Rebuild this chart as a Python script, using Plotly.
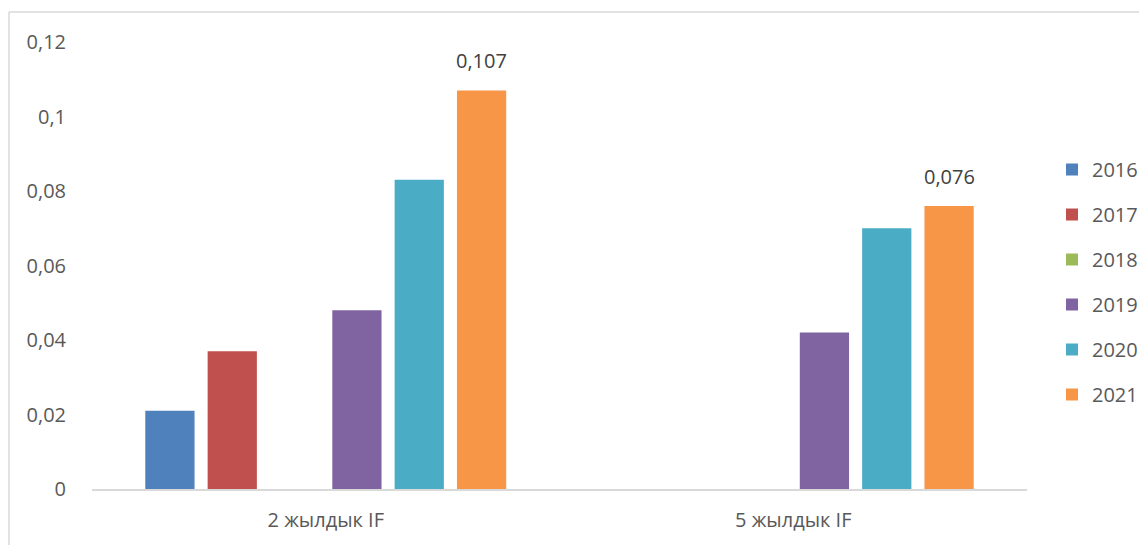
import plotly.graph_objects as go

categories = ["2 жылдык IF", "5 жылдык IF"]
years = ["2016", "2017", "2018", "2019", "2020", "2021"]
values = {
    "2016": [0.021, None],
    "2017": [0.037, None],
    "2018": [None, None],
    "2019": [0.048, 0.042],
    "2020": [0.083, 0.070],
    "2021": [0.107, 0.076],
}
colors = {
    "2016": "#4F81BD",
    "2017": "#C0504D",
    "2018": "#9BBB59",
    "2019": "#8064A2",
    "2020": "#4BACC6",
    "2021": "#F79646",
}
labelled_series = "2021"
tick_vals = [0, 0.02, 0.04, 0.06, 0.08, 0.1, 0.12]
tick_text = ["0", "0,02", "0,04", "0,06", "0,08", "0,1", "0,12"]

FONT = "Open Sans, Liberation Sans, sans-serif"
OFF = 8  # default page body margin
W, H = 1147 - OFF, 545 - OFF
L, R, T, B = 92 - OFF, 1027 - OFF, 42 - OFF, 489 - OFF
BARGAP = 0.2

fig = go.Figure()
for y in years:
    fig.add_trace(go.Bar(
        name=y, x=categories, y=values[y],
        marker=dict(color=colors[y], line=dict(width=0)),
        legendgroup=y,
    ))

# data labels for the labelled series, positioned via the axes
n = len(years)
k = years.index(labelled_series)
slot = (1 - BARGAP) / n
offset = (k - (n - 1) / 2) * slot
annotations = []
for i, v in enumerate(values[labelled_series]):
    if v is None:
        continue
    annotations.append(dict(
        x=i + offset, y=v, xref="x", yref="y",
        text=f"{v:.3f}".replace(".", ","),
        showarrow=False, yanchor="bottom", yshift=14,
        font=dict(size=20, color="#404040", family=FONT),
    ))

def px_x(px):
    return (px - L) / (R - L)

def px_y(py):
    return (B - py) / (B - T)

fig.update_layout(
    width=W, height=H,
    margin=dict(l=L, r=W - R, t=T, b=H - B, pad=0, autoexpand=False),
    paper_bgcolor="white", plot_bgcolor="white",
    separators=", ",
    barmode="group", bargap=BARGAP, bargroupgap=0.21,
    font=dict(family=FONT, size=20, color="#595959"),
    showlegend=True,
    legend=dict(
        x=px_x(1052 - OFF), y=px_y(150 - OFF), xanchor="left", yanchor="top",
        traceorder="grouped", tracegroupgap=16,
        font=dict(size=20, color="#595959"),
        itemwidth=30,
    ),
    xaxis=dict(
        showgrid=False, showline=True, linecolor="#D9D9D9", linewidth=1.5,
        ticks="", ticklabelstandoff=12, tickfont=dict(size=20, color="#595959"),
        fixedrange=True,
    ),
    yaxis=dict(
        range=[0, 0.12], showgrid=False, showline=False, zeroline=False,
        tickvals=tick_vals, ticktext=tick_text, ticks="",
        ticklabelstandoff=25, tickfont=dict(size=20, color="#595959"),
        fixedrange=True,
    ),
    annotations=annotations,
    shapes=[
        dict(type="line", xref="paper", yref="paper",
             x0=px_x(9 - OFF), x1=px_x(9 - OFF), y0=px_y(12 - OFF), y1=px_y(545),
             line=dict(color="#D9D9D9", width=1.5)),
        dict(type="line", xref="paper", yref="paper",
             x0=px_x(9 - OFF), x1=px_x(1147), y0=px_y(12 - OFF), y1=px_y(12 - OFF),
             line=dict(color="#D9D9D9", width=1.5)),
    ],
)

fig.write_html("out.html")
